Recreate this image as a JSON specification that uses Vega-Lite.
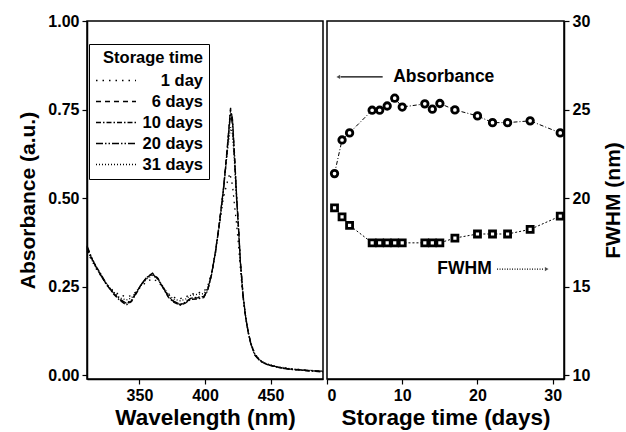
{
  "$schema": "https://vega.github.io/schema/vega-lite/v6.json",
  "background": "white",
  "padding": {"left": 17, "top": 12, "right": 2, "bottom": 2},
  "spacing": 4,
  "bounds": "flush",
  "config": {
    "font": "Liberation Sans",
    "view": {"stroke": "black", "strokeWidth": 1.5},
    "axis": {
      "labelFont": "Liberation Sans", "labelFontWeight": "bold", "labelFontSize": 16, "labelColor": "black",
      "titleFont": "Liberation Sans", "titleFontSize": 21, "titleFontWeight": "bold", "titleColor": "black",
      "grid": false, "domainColor": "black", "domainWidth": 1.5, "tickColor": "black", "tickSize": 5, "tickWidth": 1.2, "labelPadding": 3
    }
  },
  "hconcat": [
    {
      "width": 236,
      "height": 358,
      "data": {"values": [
        {"series":"6 days","nm":310,"abs":0.362},{"series":"6 days","nm":313,"abs":0.335},{"series":"6 days","nm":317,"abs":0.305},{"series":"6 days","nm":321,"abs":0.28},{"series":"6 days","nm":325,"abs":0.255},{"series":"6 days","nm":330,"abs":0.232},{"series":"6 days","nm":335,"abs":0.213},{"series":"6 days","nm":340,"abs":0.201},{"series":"6 days","nm":344,"abs":0.21},{"series":"6 days","nm":348,"abs":0.235},{"series":"6 days","nm":352,"abs":0.26},{"series":"6 days","nm":356,"abs":0.278},{"series":"6 days","nm":360,"abs":0.288},{"series":"6 days","nm":364,"abs":0.274},{"series":"6 days","nm":368,"abs":0.248},{"series":"6 days","nm":372,"abs":0.222},{"series":"6 days","nm":376,"abs":0.208},{"series":"6 days","nm":381,"abs":0.199},{"series":"6 days","nm":385,"abs":0.204},{"series":"6 days","nm":389,"abs":0.216},{"series":"6 days","nm":394,"abs":0.218},{"series":"6 days","nm":399,"abs":0.22},{"series":"6 days","nm":402,"abs":0.24},{"series":"6 days","nm":405,"abs":0.285},{"series":"6 days","nm":408,"abs":0.35},{"series":"6 days","nm":411,"abs":0.432},{"series":"6 days","nm":414,"abs":0.525},{"series":"6 days","nm":417,"abs":0.645},{"series":"6 days","nm":419.5,"abs":0.755},{"series":"6 days","nm":421,"abs":0.72},{"series":"6 days","nm":422.5,"abs":0.62},{"series":"6 days","nm":424,"abs":0.51},{"series":"6 days","nm":425.5,"abs":0.42},{"series":"6 days","nm":427,"abs":0.32},{"series":"6 days","nm":429,"abs":0.225},{"series":"6 days","nm":431,"abs":0.163},{"series":"6 days","nm":433,"abs":0.12},{"series":"6 days","nm":435,"abs":0.088},{"series":"6 days","nm":438,"abs":0.057},{"series":"6 days","nm":442,"abs":0.04},{"series":"6 days","nm":447,"abs":0.03},{"series":"6 days","nm":455,"abs":0.022},{"series":"6 days","nm":465,"abs":0.017},{"series":"6 days","nm":478,"abs":0.013},{"series":"6 days","nm":490,"abs":0.01},
        {"series":"10 days","nm":310,"abs":0.358},{"series":"10 days","nm":313,"abs":0.333},{"series":"10 days","nm":317,"abs":0.307},{"series":"10 days","nm":321,"abs":0.283},{"series":"10 days","nm":325,"abs":0.256},{"series":"10 days","nm":330,"abs":0.23},{"series":"10 days","nm":335,"abs":0.211},{"series":"10 days","nm":340,"abs":0.198},{"series":"10 days","nm":344,"abs":0.208},{"series":"10 days","nm":348,"abs":0.233},{"series":"10 days","nm":352,"abs":0.259},{"series":"10 days","nm":356,"abs":0.277},{"series":"10 days","nm":360,"abs":0.286},{"series":"10 days","nm":364,"abs":0.273},{"series":"10 days","nm":368,"abs":0.246},{"series":"10 days","nm":372,"abs":0.22},{"series":"10 days","nm":376,"abs":0.206},{"series":"10 days","nm":381,"abs":0.197},{"series":"10 days","nm":385,"abs":0.203},{"series":"10 days","nm":389,"abs":0.214},{"series":"10 days","nm":394,"abs":0.215},{"series":"10 days","nm":399,"abs":0.219},{"series":"10 days","nm":402,"abs":0.238},{"series":"10 days","nm":405,"abs":0.283},{"series":"10 days","nm":408,"abs":0.348},{"series":"10 days","nm":411,"abs":0.43},{"series":"10 days","nm":414,"abs":0.522},{"series":"10 days","nm":417,"abs":0.64},{"series":"10 days","nm":419.5,"abs":0.75},{"series":"10 days","nm":421,"abs":0.722},{"series":"10 days","nm":422.5,"abs":0.625},{"series":"10 days","nm":424,"abs":0.515},{"series":"10 days","nm":425.5,"abs":0.423},{"series":"10 days","nm":427,"abs":0.322},{"series":"10 days","nm":429,"abs":0.228},{"series":"10 days","nm":431,"abs":0.165},{"series":"10 days","nm":433,"abs":0.121},{"series":"10 days","nm":435,"abs":0.089},{"series":"10 days","nm":438,"abs":0.058},{"series":"10 days","nm":442,"abs":0.041},{"series":"10 days","nm":447,"abs":0.03},{"series":"10 days","nm":455,"abs":0.023},{"series":"10 days","nm":465,"abs":0.017},{"series":"10 days","nm":478,"abs":0.012},{"series":"10 days","nm":490,"abs":0.009},
        {"series":"20 days","nm":310,"abs":0.365},{"series":"20 days","nm":313,"abs":0.337},{"series":"20 days","nm":317,"abs":0.304},{"series":"20 days","nm":321,"abs":0.279},{"series":"20 days","nm":325,"abs":0.254},{"series":"20 days","nm":330,"abs":0.233},{"series":"20 days","nm":335,"abs":0.215},{"series":"20 days","nm":340,"abs":0.203},{"series":"20 days","nm":344,"abs":0.212},{"series":"20 days","nm":348,"abs":0.236},{"series":"20 days","nm":352,"abs":0.259},{"series":"20 days","nm":356,"abs":0.276},{"series":"20 days","nm":360,"abs":0.285},{"series":"20 days","nm":364,"abs":0.272},{"series":"20 days","nm":368,"abs":0.247},{"series":"20 days","nm":372,"abs":0.223},{"series":"20 days","nm":376,"abs":0.209},{"series":"20 days","nm":381,"abs":0.2},{"series":"20 days","nm":385,"abs":0.206},{"series":"20 days","nm":389,"abs":0.217},{"series":"20 days","nm":394,"abs":0.22},{"series":"20 days","nm":399,"abs":0.222},{"series":"20 days","nm":402,"abs":0.241},{"series":"20 days","nm":405,"abs":0.284},{"series":"20 days","nm":408,"abs":0.347},{"series":"20 days","nm":411,"abs":0.428},{"series":"20 days","nm":414,"abs":0.518},{"series":"20 days","nm":417,"abs":0.635},{"series":"20 days","nm":419.5,"abs":0.74},{"series":"20 days","nm":421,"abs":0.705},{"series":"20 days","nm":422.5,"abs":0.61},{"series":"20 days","nm":424,"abs":0.505},{"series":"20 days","nm":425.5,"abs":0.416},{"series":"20 days","nm":427,"abs":0.318},{"series":"20 days","nm":429,"abs":0.224},{"series":"20 days","nm":431,"abs":0.162},{"series":"20 days","nm":433,"abs":0.119},{"series":"20 days","nm":435,"abs":0.087},{"series":"20 days","nm":438,"abs":0.056},{"series":"20 days","nm":442,"abs":0.04},{"series":"20 days","nm":447,"abs":0.031},{"series":"20 days","nm":455,"abs":0.022},{"series":"20 days","nm":465,"abs":0.016},{"series":"20 days","nm":478,"abs":0.013},{"series":"20 days","nm":490,"abs":0.011},
        {"series":"31 days","nm":310,"abs":0.355},{"series":"31 days","nm":313,"abs":0.33},{"series":"31 days","nm":317,"abs":0.303},{"series":"31 days","nm":321,"abs":0.281},{"series":"31 days","nm":325,"abs":0.258},{"series":"31 days","nm":330,"abs":0.236},{"series":"31 days","nm":335,"abs":0.218},{"series":"31 days","nm":340,"abs":0.212},{"series":"31 days","nm":344,"abs":0.218},{"series":"31 days","nm":348,"abs":0.238},{"series":"31 days","nm":352,"abs":0.258},{"series":"31 days","nm":356,"abs":0.273},{"series":"31 days","nm":360,"abs":0.282},{"series":"31 days","nm":364,"abs":0.271},{"series":"31 days","nm":368,"abs":0.25},{"series":"31 days","nm":372,"abs":0.228},{"series":"31 days","nm":376,"abs":0.215},{"series":"31 days","nm":381,"abs":0.21},{"series":"31 days","nm":385,"abs":0.214},{"series":"31 days","nm":389,"abs":0.225},{"series":"31 days","nm":394,"abs":0.228},{"series":"31 days","nm":399,"abs":0.23},{"series":"31 days","nm":402,"abs":0.245},{"series":"31 days","nm":405,"abs":0.286},{"series":"31 days","nm":408,"abs":0.347},{"series":"31 days","nm":411,"abs":0.425},{"series":"31 days","nm":414,"abs":0.52},{"series":"31 days","nm":417,"abs":0.63},{"series":"31 days","nm":419.5,"abs":0.7},{"series":"31 days","nm":421,"abs":0.68},{"series":"31 days","nm":422.5,"abs":0.6},{"series":"31 days","nm":424,"abs":0.5},{"series":"31 days","nm":425.5,"abs":0.412},{"series":"31 days","nm":427,"abs":0.315},{"series":"31 days","nm":429,"abs":0.226},{"series":"31 days","nm":431,"abs":0.165},{"series":"31 days","nm":433,"abs":0.122},{"series":"31 days","nm":435,"abs":0.09},{"series":"31 days","nm":438,"abs":0.06},{"series":"31 days","nm":442,"abs":0.042},{"series":"31 days","nm":447,"abs":0.032},{"series":"31 days","nm":455,"abs":0.024},{"series":"31 days","nm":465,"abs":0.018},{"series":"31 days","nm":478,"abs":0.014},{"series":"31 days","nm":490,"abs":0.011},
        {"series":"1 day","nm":310,"abs":0.35},{"series":"1 day","nm":313,"abs":0.328},{"series":"1 day","nm":317,"abs":0.3},{"series":"1 day","nm":321,"abs":0.278},{"series":"1 day","nm":325,"abs":0.257},{"series":"1 day","nm":330,"abs":0.238},{"series":"1 day","nm":335,"abs":0.226},{"series":"1 day","nm":340,"abs":0.222},{"series":"1 day","nm":344,"abs":0.224},{"series":"1 day","nm":348,"abs":0.238},{"series":"1 day","nm":352,"abs":0.253},{"series":"1 day","nm":356,"abs":0.265},{"series":"1 day","nm":360,"abs":0.272},{"series":"1 day","nm":364,"abs":0.264},{"series":"1 day","nm":368,"abs":0.247},{"series":"1 day","nm":372,"abs":0.23},{"series":"1 day","nm":376,"abs":0.22},{"series":"1 day","nm":381,"abs":0.216},{"series":"1 day","nm":385,"abs":0.22},{"series":"1 day","nm":389,"abs":0.228},{"series":"1 day","nm":394,"abs":0.232},{"series":"1 day","nm":399,"abs":0.236},{"series":"1 day","nm":402,"abs":0.25},{"series":"1 day","nm":405,"abs":0.29},{"series":"1 day","nm":408,"abs":0.345},{"series":"1 day","nm":411,"abs":0.425},{"series":"1 day","nm":414,"abs":0.5},{"series":"1 day","nm":417,"abs":0.545},{"series":"1 day","nm":419,"abs":0.57},{"series":"1 day","nm":421,"abs":0.535},{"series":"1 day","nm":422.5,"abs":0.48},{"series":"1 day","nm":424,"abs":0.43},{"series":"1 day","nm":425.5,"abs":0.37},{"series":"1 day","nm":427,"abs":0.3},{"series":"1 day","nm":429,"abs":0.22},{"series":"1 day","nm":431,"abs":0.162},{"series":"1 day","nm":433,"abs":0.12},{"series":"1 day","nm":435,"abs":0.09},{"series":"1 day","nm":438,"abs":0.059},{"series":"1 day","nm":442,"abs":0.042},{"series":"1 day","nm":447,"abs":0.031},{"series":"1 day","nm":455,"abs":0.023},{"series":"1 day","nm":465,"abs":0.018},{"series":"1 day","nm":478,"abs":0.014},{"series":"1 day","nm":490,"abs":0.01}
      ]},
      "mark": {"type": "line", "color": "black", "strokeWidth": 1.3},
      "encoding": {
        "x": {"field": "nm", "type": "quantitative", "scale": {"domain": [310, 490], "nice": false, "zero": false},
              "axis": {"values": [350, 400, 450], "title": "Wavelength (nm)", "titleFontSize": 22.5, "titlePadding": 3}},
        "y": {"field": "abs", "type": "quantitative", "scale": {"domain": [-0.011, 1], "nice": false},
              "axis": {"values": [0, 0.25, 0.5, 0.75, 1], "format": ".2f", "title": "Absorbance (a.u.)", "titlePadding": 9}},
        "strokeDash": {"field": "series", "type": "nominal",
          "scale": {"domain": ["1 day", "6 days", "10 days", "20 days", "31 days"],
                    "range": [[1.5, 5], [5, 4], [5, 2, 1.5, 2], [7, 2, 1.5, 2, 1.5, 2], [1, 2]]},
          "legend": {"title": "Storage time", "orient": "none", "legendX": 2, "legendY": 23,
            "strokeColor": "black", "fillColor": "white", "padding": 6,
            "titleFontSize": 16.5, "titleFontWeight": "bold", "titleColor": "black", "titleFont": "Liberation Sans", "titlePadding": 3, "titleAnchor": "end",
            "labelFontSize": 16.5, "labelFontWeight": "bold", "labelColor": "black", "labelFont": "Liberation Sans", "labelAlign": "right",
            "symbolType": "M-1,0H3", "symbolSize": 400, "symbolStrokeColor": "black", "symbolStrokeWidth": 1.3,
            "rowPadding": 1, "labelOffset": 86}}
      }
    },
    {
      "width": 237,
      "height": 358,
      "layer": [
        {
          "data": {"values": [
            {"day":1,"abs":0.569},{"day":2,"abs":0.664},{"day":3,"abs":0.684},{"day":6,"abs":0.748},{"day":7,"abs":0.748},{"day":8,"abs":0.76},{"day":9,"abs":0.782},{"day":10,"abs":0.757},{"day":13,"abs":0.766},{"day":14,"abs":0.751},{"day":15,"abs":0.767},{"day":17,"abs":0.749},{"day":20,"abs":0.732},{"day":22,"abs":0.713},{"day":24,"abs":0.713},{"day":27,"abs":0.718},{"day":31,"abs":0.684}
          ]},
          "encoding": {
            "x": {"field": "day", "type": "quantitative", "scale": {"domain": [0, 31.5], "nice": false, "zero": false},
                  "axis": {"values": [0, 10, 20, 30], "title": "Storage time (days)", "titleFontSize": 22.5, "titlePadding": 3}},
            "y": {"field": "abs", "type": "quantitative", "scale": {"domain": [-0.011, 1], "nice": false}, "axis": null}
          },
          "layer": [
            {"mark": {"type": "line", "color": "black", "strokeWidth": 1, "strokeDash": [4, 2, 1, 2]}},
            {"mark": {"type": "point", "shape": "circle", "size": 42, "filled": false, "stroke": "black", "strokeWidth": 2.8, "fill": "white", "fillOpacity": 1}}
          ]
        },
        {
          "layer": [
            {
              "data": {"values": [
                {"day":1,"fwhm":19.45},{"day":2,"fwhm":18.94},{"day":3,"fwhm":18.46},{"day":6,"fwhm":17.47},{"day":7,"fwhm":17.47},{"day":8,"fwhm":17.47},{"day":9,"fwhm":17.47},{"day":10,"fwhm":17.47},{"day":13,"fwhm":17.47},{"day":14,"fwhm":17.47},{"day":15,"fwhm":17.47},{"day":17,"fwhm":17.74},{"day":20,"fwhm":17.97},{"day":22,"fwhm":17.97},{"day":24,"fwhm":17.97},{"day":27,"fwhm":18.23},{"day":31,"fwhm":18.98}
              ]},
              "encoding": {
                "x": {"field": "day", "type": "quantitative"},
                "y": {"field": "fwhm", "type": "quantitative", "scale": {"domain": [9.78, 30], "nice": false, "zero": false},
                      "axis": {"orient": "right", "values": [10, 15, 20, 25, 30], "title": "FWHM (nm)", "titleAngle": 270, "titlePadding": 34}}
              },
              "layer": [
                {"mark": {"type": "line", "color": "black", "strokeWidth": 1, "strokeDash": [2, 2]}},
                {"mark": {"type": "point", "shape": "square", "size": 36, "filled": false, "stroke": "black", "strokeWidth": 2.8, "fill": "white", "fillOpacity": 1}}
              ]
            },
            {
              "data": {"values": [{"label": "Absorbance", "day": 8.8, "fwhm": 26.84}]},
              "mark": {"type": "text", "fontSize": 17.5, "fontWeight": "bold", "font": "Liberation Sans", "color": "black", "baseline": "middle", "align": "left"},
              "encoding": {
                "x": {"field": "day", "type": "quantitative"},
                "y": {"field": "fwhm", "type": "quantitative"},
                "text": {"field": "label"}
              }
            },
            {
              "data": {"values": [{"label": "FWHM", "day": 21.9, "fwhm": 15.99}]},
              "mark": {"type": "text", "fontSize": 17.5, "fontWeight": "bold", "font": "Liberation Sans", "color": "black", "baseline": "middle", "align": "right"},
              "encoding": {
                "x": {"field": "day", "type": "quantitative"},
                "y": {"field": "fwhm", "type": "quantitative"},
                "text": {"field": "label"}
              }
            },
            {
              "data": {"values": [
                {"arrow": "a", "day": 1.8, "fwhm": 26.84},
                {"arrow": "a", "day": 7.4, "fwhm": 26.84}
              ]},
              "mark": {"type": "line", "color": "black", "strokeWidth": 1.2},
              "encoding": {
                "x": {"field": "day", "type": "quantitative"},
                "y": {"field": "fwhm", "type": "quantitative"},
                "detail": {"field": "arrow"}
              }
            },
            {
              "data": {"values": [
                {"arrow": "f", "day": 22.6, "fwhm": 15.99},
                {"arrow": "f", "day": 28.9, "fwhm": 15.99}
              ]},
              "mark": {"type": "line", "color": "black", "strokeWidth": 1.2, "strokeDash": [1, 1.5]},
              "encoding": {
                "x": {"field": "day", "type": "quantitative"},
                "y": {"field": "fwhm", "type": "quantitative"},
                "detail": {"field": "arrow"}
              }
            },
            {
              "data": {"values": [
                {"day": 1.5, "fwhm": 26.84, "head": "triangle-left"},
                {"day": 29.2, "fwhm": 15.99, "head": "triangle-right"}
              ]},
              "mark": {"type": "point", "filled": true, "color": "black", "size": 18},
              "encoding": {
                "x": {"field": "day", "type": "quantitative"},
                "y": {"field": "fwhm", "type": "quantitative"},
                "shape": {"field": "head", "type": "nominal", "scale": null}
              }
            }
          ]
        }
      ],
      "resolve": {"scale": {"y": "independent"}}
    }
  ]
}
